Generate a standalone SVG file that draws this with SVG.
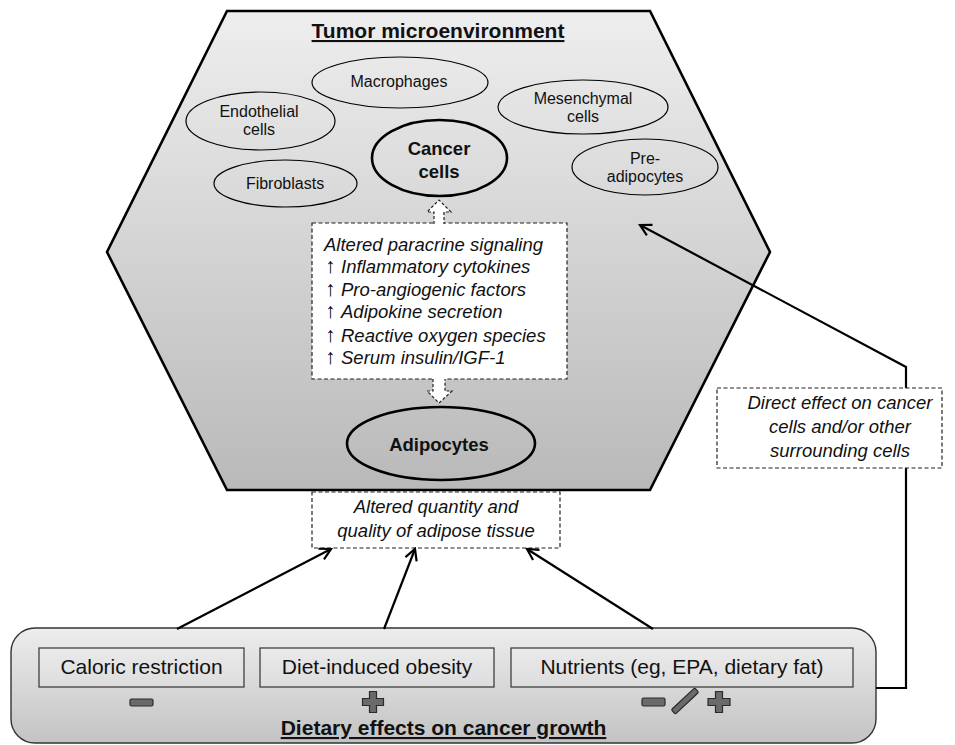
<svg xmlns="http://www.w3.org/2000/svg" width="955" height="745" viewBox="0 0 955 745">
<defs>
<linearGradient id="gHex" x1="0" y1="0" x2="0" y2="1">
<stop offset="0" stop-color="#eeeeee"/>
<stop offset="1" stop-color="#b9b9b9"/>
</linearGradient>
<linearGradient id="gBox" x1="0" y1="0" x2="0" y2="1">
<stop offset="0" stop-color="#ededed"/>
<stop offset="1" stop-color="#c3c3c3"/>
</linearGradient>
<linearGradient id="gInner" x1="0" y1="0" x2="0" y2="1">
<stop offset="0" stop-color="#eaeaea"/>
<stop offset="1" stop-color="#dddddd"/>
</linearGradient>
<marker id="arr" markerUnits="userSpaceOnUse" markerWidth="16" markerHeight="16" viewBox="0 0 16 16" refX="14" refY="8" orient="auto">
<path d="M3,2 L14,8 L3,14" fill="none" stroke="#000" stroke-width="2.2"/>
</marker>
<style>
text{font-family:"Liberation Sans",Arial,sans-serif;fill:#111;}
.cell{font-size:16px;text-anchor:middle;}
.big{font-size:18.5px;font-weight:bold;text-anchor:middle;}
.it{font-size:18.5px;font-style:italic;}
.up{font-size:21px;font-style:normal;fill:#000;}
.itc{font-size:18.5px;font-style:italic;text-anchor:middle;}
.lbl{font-size:21px;text-anchor:middle;}
.ttl{font-size:21px;font-weight:bold;text-anchor:middle;text-decoration:underline;}
.ell{fill:none;stroke:#000;stroke-width:1.2;}
.ellb{fill:none;stroke:#000;stroke-width:2.6;}
.dash{fill:#fff;stroke:#222;stroke-width:1.2;stroke-dasharray:4,2.5;}
.conn{fill:none;stroke:#000;stroke-width:2.2;marker-end:url(#arr);}
.inner{fill:url(#gInner);stroke:#333;stroke-width:1.2;}
.sym{fill:#6a6a6a;stroke:#2a2a2a;stroke-width:1.2;}
</style>
</defs>

<g id="tumor-microenvironment">
<polygon points="227,11 650,11 770,252 650,490 227,490 107,252" fill="url(#gHex)" stroke="#000" stroke-width="2.6"/>
<text class="ttl" x="438" y="38">Tumor microenvironment</text>
</g>

<g id="macrophages">
<ellipse class="ell" cx="400" cy="82.5" rx="88" ry="25.5"/>
<text class="cell" x="399" y="87">Macrophages</text>
</g>
<g id="endothelial-cells">
<ellipse class="ell" cx="260.5" cy="121" rx="74.5" ry="29"/>
<text class="cell" x="259" y="117">Endothelial</text>
<text class="cell" x="259" y="135">cells</text>
</g>
<g id="fibroblasts">
<ellipse class="ell" cx="285.5" cy="183.5" rx="71.5" ry="23.5"/>
<text class="cell" x="285" y="189">Fibroblasts</text>
</g>
<g id="cancer-cells">
<ellipse class="ellb" cx="439.5" cy="158" rx="67.5" ry="38"/>
<text class="big" x="439" y="155">Cancer</text>
<text class="big" x="439" y="178">cells</text>
</g>
<g id="mesenchymal-cells">
<ellipse class="ell" cx="583" cy="107" rx="85" ry="27"/>
<text class="cell" x="583" y="104">Mesenchymal</text>
<text class="cell" x="583" y="122">cells</text>
</g>
<g id="pre-adipocytes">
<ellipse class="ell" cx="645" cy="167" rx="73" ry="28"/>
<text class="cell" x="645" y="164">Pre-</text>
<text class="cell" x="645" y="182">adipocytes</text>
</g>
<g id="adipocytes">
<ellipse class="ellb" cx="441" cy="443.5" rx="94" ry="36.5"/>
<text class="big" x="439" y="451">Adipocytes</text>
</g>

<g id="paracrine-signaling">
<rect class="dash" x="312" y="223" width="255" height="156"/>
<text class="it" x="324" y="251">Altered paracrine signaling</text>
<text class="it" y="273"><tspan class="up" x="325">↑</tspan><tspan x="341">Inflammatory cytokines</tspan></text>
<text class="it" y="296"><tspan class="up" x="325">↑</tspan><tspan x="341">Pro-angiogenic factors</tspan></text>
<text class="it" y="318"><tspan class="up" x="325">↑</tspan><tspan x="341">Adipokine secretion</tspan></text>
<text class="it" y="342"><tspan class="up" x="325">↑</tspan><tspan x="341">Reactive oxygen species</tspan></text>
<text class="it" y="364"><tspan class="up" x="325">↑</tspan><tspan x="341">Serum insulin/IGF-1</tspan></text>
</g>

<g id="adipose-tissue">
<rect class="dash" x="312" y="492" width="248" height="56"/>
<text class="itc" x="436" y="513">Altered quantity and</text>
<text class="itc" x="436" y="537">quality of adipose tissue</text>
</g>

<g id="dietary-effects">
<rect x="11" y="628" width="865" height="115" rx="24" ry="24" fill="url(#gBox)" stroke="#333" stroke-width="1.4"/>
<rect class="inner" x="39" y="648" width="205" height="39"/>
<text class="lbl" x="141.5" y="674">Caloric restriction</text>
<rect class="inner" x="260" y="648" width="234" height="39"/>
<text class="lbl" x="377" y="674">Diet-induced obesity</text>
<rect class="inner" x="511" y="648" width="342" height="39"/>
<text class="lbl" x="682" y="674">Nutrients (eg, EPA, dietary fat)</text>
<rect class="sym" x="130" y="699" width="23" height="7" rx="1.5"/>
<path class="sym" d="M369.5,691.5 h7 v7 h7 v7 h-7 v7 h-7 v-7 h-7 v-7 h7 z"/>
<rect class="sym" x="642" y="698" width="23" height="8" rx="1.5"/>
<rect class="sym" x="-16" y="-3" width="32" height="6" rx="1.5" transform="translate(685,701) rotate(-43)"/>
<path class="sym" d="M715.5,691.5 h7 v7 h7.5 v7 h-7.5 v7 h-7 v-7 h-7.5 v-7 h7.5 z"/>
<text class="ttl" x="443.5" y="735">Dietary effects on cancer growth</text>
</g>

<g id="connectors">
<line class="conn" x1="177" y1="629" x2="331" y2="549"/>
<line class="conn" x1="384" y1="629" x2="415" y2="549"/>
<line class="conn" x1="653" y1="629" x2="527" y2="549"/>
<path class="conn" d="M876,688 H906 V367 L640,225"/>
<g id="hollow-arrow-up">
<polygon points="439,200 451,212 444,212 444,225 434,225 434,212 427,212" fill="#fff" stroke="none"/>
<path d="M434,224 V212 H427 L439,200 L451,212 H444 V224" fill="none" stroke="#222" stroke-width="1.2" stroke-dasharray="3,2"/>
</g>
<g id="hollow-arrow-down">
<polygon points="433,377 445,377 445,391 452,391 439,403 427,391 433,391" fill="#fff" stroke="none"/>
<path d="M433,379 V391 H427 L439,403 L452,391 H445 V379" fill="none" stroke="#222" stroke-width="1.2" stroke-dasharray="3,2"/>
</g>
</g>

<g id="direct-effect">
<rect class="dash" x="717" y="388" width="225" height="80"/>
<text class="itc" x="840" y="409">Direct effect on cancer</text>
<text class="itc" x="840" y="433">cells and/or other</text>
<text class="itc" x="840" y="457">surrounding cells</text>
</g>
</svg>
